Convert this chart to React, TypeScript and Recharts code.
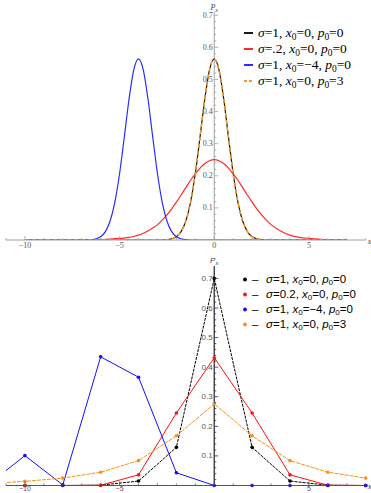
import React from 'react';
import { Line, LineChart, ReferenceLine, XAxis, YAxis } from 'recharts';

// ---- top panel: continuous densities ----
const xTop = [
  -10, -9, -8, -7.5, -7,
  -6.5, -6.25, -6, -5.75, -5.5, -5.25, -5, -4.75, -4.5, -4.25, -4, -3.75, -3.5, -3.25,
  -3, -2.75, -2.5, -2.25, -2, -1.75, -1.5, -1.25, -1, -0.75, -0.5, -0.25,
  0,
  0.25, 0.5, 0.75, 1, 1.25, 1.5, 1.75, 2, 2.25, 2.5, 2.75, 3,
  3.5, 4, 4.5, 5, 5.5, 6, 7,
];
const blackTop = [
  0, 0, 0, 0, 0,
  0, 0, 0, 0, 0, 0, 0, 0, 0, 0, 0, 0, 0, 0,
  0, 0, 0.001, 0.004, 0.01, 0.026, 0.059, 0.118, 0.207, 0.321, 0.439, 0.53,
  0.564,
  0.53, 0.439, 0.321, 0.207, 0.118, 0.059, 0.026, 0.01, 0.004, 0.001, 0, 0,
  0, 0, 0, 0, 0, 0, 0,
];
const redTop = [
  0, 0, 0, 0, 0,
  0, 0.001, 0.001, 0.002, 0.003, 0.004, 0.005, 0.006, 0.008, 0.011, 0.015, 0.021, 0.028, 0.037,
  0.048, 0.062, 0.078, 0.097, 0.118, 0.14, 0.163, 0.186, 0.206, 0.224, 0.238, 0.247,
  0.25,
  0.247, 0.238, 0.224, 0.206, 0.186, 0.163, 0.14, 0.118, 0.097, 0.078, 0.062, 0.048,
  0.028, 0.015, 0.008, 0.005, 0.003, 0.001, 0,
];
const blueTop = [
  0, 0, 0, 0, 0,
  0.001, 0.004, 0.01, 0.026, 0.059, 0.118, 0.207, 0.321, 0.439, 0.53, 0.564, 0.53, 0.439, 0.321,
  0.207, 0.118, 0.059, 0.026, 0.01, 0.004, 0.001, 0, 0, 0, 0, 0,
  0,
  0, 0, 0, 0, 0, 0, 0, 0, 0, 0, 0, 0,
  0, 0, 0, 0, 0, 0, 0,
];
const orangeTop = [
  0, 0, 0, 0, 0,
  0, 0, 0, 0, 0, 0, 0, 0, 0, 0, 0, 0, 0, 0,
  0, 0, 0.001, 0.004, 0.01, 0.026, 0.059, 0.118, 0.207, 0.321, 0.439, 0.53,
  0.564,
  0.53, 0.439, 0.321, 0.207, 0.118, 0.059, 0.026, 0.01, 0.004, 0.001, 0, 0,
  0, 0, 0, 0, 0, 0, 0,
];

// ---- bottom panel: lattice ----
const xBottom = [-12, -10, -8, -6, -4, -2, 0, 2, 4, 6, 8];
const blackBottom = [0, 0, 0, 0.001, 0.015, 0.129, 0.7, 0.129, 0.015, 0.001, 0];
const redBottom = [0, 0, 0, 0.001, 0.036, 0.245, 0.432, 0.245, 0.036, 0.001, 0];
const blueBottom = [0, 0.101, 0.002, 0.435, 0.366, 0.043, 0, 0, 0, 0, 0];
const orangeBottom = [0.006, 0.014, 0.025, 0.045, 0.084, 0.168, 0.276, 0.168, 0.084, 0.045, 0.025];

// ticks
const xTicks = [-11, -10, -9, -8, -7, -6, -5, -4, -3, -2, -1, 0, 1, 2, 3, 4, 5, 6, 7, 8];
const yTicks = [
  0.02, 0.04, 0.06, 0.08, 0.1, 0.12, 0.14, 0.16, 0.18, 0.2, 0.22, 0.24, 0.26, 0.28, 0.3,
  0.32, 0.34, 0.36, 0.38, 0.4, 0.42, 0.44, 0.46, 0.48, 0.5, 0.52, 0.54, 0.56, 0.58, 0.6,
  0.62, 0.64, 0.66, 0.68, 0.7,
];

// legend text pieces
const sigmaTop = ['1', '.2', '1', '1'];
const sigmaBottom = ['1', '0.2', '1', '1'];
const x0Vals = ['0', '0', '\u22124', '0'];
const p0Vals = ['0', '0', '0', '3'];

const topColors = ['#1a1a1a', '#ff2b2b', '#2b2bff', '#ff9a1f'];
const bottomColors = ['#000000', '#ff1010', '#1010ff', '#ff8c1a'];

const W = 371;
const ML = 6; // plot left edge
const MR = 5.3;
const PLOT_W = W - ML - MR;
const ZERO_X = (PLOT_W * 11) / 19;

const SERIF = '"Liberation Serif", "DejaVu Serif", serif';
const SANS = '"Liberation Sans", Arial, sans-serif';

const topData = xTop.map((x, i) => ({
  x,
  black: blackTop[i],
  red: redTop[i],
  blue: blueTop[i],
  orange: orangeTop[i],
}));

const bottomData = xBottom.map((x, i) => ({
  x,
  black: blackBottom[i],
  red: redBottom[i],
  blue: blueBottom[i],
  orange: orangeBottom[i],
}));

const isMajorY = (v: number) => Math.abs(v * 10 - Math.round(v * 10)) < 1e-6;

function makeYTick(font: string, stroke: string, fill: string) {
  return (props: any) => {
    const { x, y, payload } = props;
    const v = payload.value as number;
    const major = isMajorY(v);
    const ax = x + ZERO_X;
    return (
      <g>
        <line x1={ax} x2={ax + (major ? 4 : 2)} y1={y} y2={y} stroke={stroke} strokeWidth={0.8} />
        {major && (
          <text x={ax - 1.5} y={y} textAnchor="end" dominantBaseline="central" fontFamily={font} fontSize={8} fill={fill}>
            {v.toFixed(1)}
          </text>
        )}
      </g>
    );
  };
}

function makeXTick(font: string, stroke: string, fill: string, showZero: boolean, dy: number, size: number) {
  return (props: any) => {
    const { x, y, payload } = props;
    const v = payload.value as number;
    const major = v % 5 === 0;
    return (
      <g>
        <line x1={x} x2={x} y1={y} y2={y - (major ? 4 : 2)} stroke={stroke} strokeWidth={0.8} />
        {major && (v !== 0 || showZero) && (
          <text x={x} y={y + dy} textAnchor="middle" dominantBaseline="hanging" fontFamily={font} fontSize={size} fill={fill}>
            {v < 0 ? `\u2212${Math.abs(v)}` : v}
          </text>
        )}
      </g>
    );
  };
}

function PxLabel(props: any) {
  const { viewBox, font, dy } = props;
  const { x, y } = viewBox;
  return (
    <text x={x} y={y + dy} textAnchor="middle" fontFamily={font} fontSize={8} fontStyle="italic" fill="#444">
      P<tspan fontSize={6} dy={1.5}>x</tspan>
    </text>
  );
}

function XLabel(props: any) {
  const { viewBox, font } = props;
  const { x, y, width } = viewBox;
  return (
    <text x={x + width + 2} y={y + 1} dominantBaseline="central" fontFamily={font} fontSize={8} fontStyle="italic" fill="#444">
      x
    </text>
  );
}

function Sub({ children }: { children: React.ReactNode }) {
  return <span style={{ fontSize: '0.7em', position: 'relative', top: '0.3em' }}>{children}</span>;
}

function TopLegend() {
  return (
    <div style={{ position: 'absolute', left: 243, top: 24.7, fontFamily: SERIF, fontSize: 13.5, lineHeight: '16px' }}>
      {sigmaTop.map((s, i) => (
        <div key={i} style={{ position: 'relative', height: 16, width: 125, whiteSpace: 'nowrap' }}>
          <svg width={12} height={16} style={{ position: 'absolute', left: 0, top: 0 }}>
            <line x1={1} x2={10} y1={8} y2={8} stroke={topColors[i]} strokeWidth={2} strokeDasharray={i === 3 ? '3 2' : undefined} />
          </svg>
          <span style={{ position: 'absolute', left: 15, top: 0 }}>
            <i>σ</i>={s}, <i>x</i>
            <Sub>0</Sub>={x0Vals[i]}, <i>p</i>
            <Sub>0</Sub>={p0Vals[i]}
          </span>
        </div>
      ))}
    </div>
  );
}

function BottomLegend() {
  return (
    <div style={{ position: 'absolute', left: 241, top: 271.8, fontFamily: SANS, fontSize: 11.5, lineHeight: '15px' }}>
      {sigmaBottom.map((s, i) => (
        <div key={i} style={{ position: 'relative', height: 15, width: 130, whiteSpace: 'nowrap' }}>
          <svg width={8} height={15} style={{ position: 'absolute', left: 0, top: 0 }}>
            <circle cx={4} cy={7.5} r={1.9} fill={bottomColors[i]} />
          </svg>
          <span style={{ position: 'absolute', left: 11, top: 0 }}>{'\u2013'}</span>
          <span style={{ position: 'absolute', left: 25, top: 0 }}>
            <i>σ</i>={s}, <i>x</i>
            <Sub>0</Sub>={x0Vals[i]}, <i>p</i>
            <Sub>0</Sub>={p0Vals[i]}
          </span>
        </div>
      ))}
    </div>
  );
}

const seriesKeys = ['black', 'red', 'blue', 'orange'];

export default function App() {
  return (
    <div style={{ position: 'absolute', left: 0, top: 0, width: W, height: 493, background: '#fff', overflow: 'hidden' }}>
      <div style={{ position: 'absolute', left: 0, top: 0 }}>
        <LineChart width={W} height={250} data={topData} margin={{ top: 12, right: MR, left: ML - 1, bottom: 0 }}>
          <XAxis
            dataKey="x"
            type="number"
            domain={[-11, 8]}
            allowDataOverflow
            ticks={xTicks}
            interval={0}
            height={10}
            tickSize={0}
            tickMargin={0}
            tickLine={false}
            axisLine={{ stroke: '#a0a0a0', strokeWidth: 1 }}
            tick={makeXTick(SERIF, '#a0a0a0', '#555', true, 2, 8)}
            label={<XLabel font={SERIF} />}
          />
          <YAxis
            type="number"
            domain={[0, 0.71]}
            allowDataOverflow
            ticks={yTicks}
            interval={0}
            width={1}
            tickSize={0}
            tickMargin={0}
            tickLine={false}
            axisLine={false}
            tick={makeYTick(SERIF, '#a0a0a0', '#555')}
          />
          <ReferenceLine x={0} stroke="#a0a0a0" strokeWidth={1} label={<PxLabel font={SERIF} dy={-2} />} />
          {seriesKeys.map((k, i) => (
            <Line
              key={k}
              type="monotone"
              dataKey={k}
              stroke={topColors[i]}
              strokeWidth={k === 'orange' ? 1.5 : 1.2}
              strokeDasharray={k === 'orange' ? '4 3' : undefined}
              dot={false}
              isAnimationActive={false}
            />
          ))}
        </LineChart>
      </div>
      <div style={{ position: 'absolute', left: 0, top: 250 }}>
        <LineChart width={W} height={243} data={bottomData} margin={{ top: 16, right: MR, left: ML - 1, bottom: 0 }}>
          <XAxis
            dataKey="x"
            type="number"
            domain={[-11, 8]}
            allowDataOverflow
            ticks={xTicks}
            interval={0}
            height={7.5}
            tickSize={0}
            tickMargin={0}
            tickLine={false}
            axisLine={{ stroke: '#555', strokeWidth: 1.2 }}
            tick={makeXTick(SANS, '#555', '#555', false, 1, 7)}
            label={<XLabel font={SANS} />}
          />
          <YAxis
            type="number"
            domain={[0, 0.742]}
            allowDataOverflow
            ticks={yTicks}
            interval={0}
            width={1}
            tickSize={0}
            tickMargin={0}
            tickLine={false}
            axisLine={false}
            tick={makeYTick(SANS, '#333', '#555')}
          />
          <ReferenceLine x={0} stroke="#333" strokeWidth={1.3} label={<PxLabel font={SANS} dy={-3} />} />
          {seriesKeys.map((k, i) => (
            <Line
              key={k}
              type="linear"
              dataKey={k}
              stroke={bottomColors[i]}
              strokeWidth={1}
              strokeDasharray={k === 'black' ? '3 1' : k === 'orange' ? '4 1' : undefined}
              dot={{ r: 1.8, fill: bottomColors[i], stroke: 'none', clipDot: false } as any}
              isAnimationActive={false}
            />
          ))}
        </LineChart>
      </div>
      <TopLegend />
      <BottomLegend />
    </div>
  );
}
